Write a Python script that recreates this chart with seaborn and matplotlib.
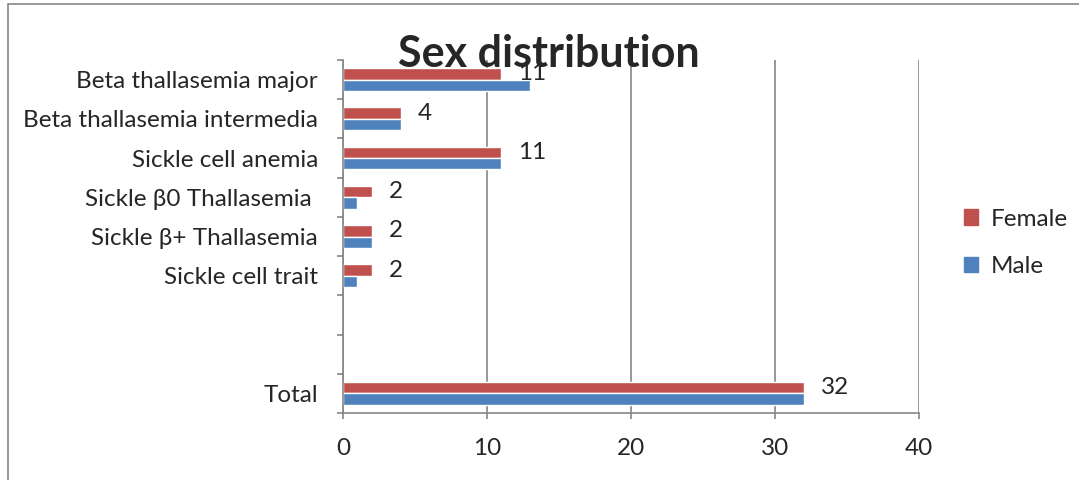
import numpy as np
import pandas as pd
import matplotlib
matplotlib.use("Agg")
import matplotlib.pyplot as plt
import seaborn as sns
from matplotlib.patches import Patch, Rectangle

categories = ["Beta thallasemia major", "Beta thallasemia intermedia",
              "Sickle cell anemia", "Sickle β0 Thallasemia ",
              "Sickle β+ Thallasemia", "Sickle cell trait", "Total"]
female = [11, 4, 11, 2, 2, 2, 32]
male = [13, 4, 11, 1, 2, 1, 32]
series = ["Female", "Male"]
colors = ["#C0504D", "#4F81BD"]

# two empty slots before the Total row, as in the original sheet
order = categories[:6] + ["", " "] + categories[6:]

df = pd.DataFrame({
    "category": categories * 2,
    "value": female + male,
    "sex": ["Female"] * len(categories) + ["Male"] * len(categories),
})

sns.set_style("white")
plt.rcParams["font.family"] = ["Lato", "DejaVu Sans"]
grid_c = "#868686"
fs = 17.5

fig = plt.figure(figsize=(10.79, 4.8), dpi=100)
ax = fig.add_axes([343 / 1079, 1 - 413 / 480, (919 - 343) / 1079, (413 - 60) / 480])

sns.barplot(data=df, y="category", x="value", hue="sex", order=order,
            hue_order=series, palette=colors, orient="h", width=0.58,
            saturation=1, legend=False, ax=ax)

ax.bar_label(ax.containers[0], padding=12, fontsize=fs)

ax.set_xlim(0, 40)
ax.set_ylim(len(order) - 0.5, -0.5)
ax.set_xticks(np.arange(0, 41, 10))
ax.set_xlabel("")
ax.set_ylabel("")
ax.xaxis.grid(True, color=grid_c, lw=1.2)
ax.set_axisbelow(True)
for s in ["top", "right"]:
    ax.spines[s].set_visible(False)
for s in ["left", "bottom"]:
    ax.spines[s].set_color(grid_c)
    ax.spines[s].set_linewidth(1.2)

ax.set_yticks(np.arange(len(order)))
ax.set_yticklabels(order)
ax.set_yticks(np.arange(-0.5, len(order)), minor=True)
ax.tick_params(axis="y", which="major", length=0, pad=18, labelsize=fs)
ax.tick_params(axis="y", which="minor", left=True, length=4, color=grid_c, width=1.2)
ax.tick_params(axis="x", bottom=True, length=4, color=grid_c, width=1.2,
               pad=14, labelsize=fs, direction="out")

handles = [Patch(color=c, label=l) for c, l in zip(colors, series)]
fig.legend(handles=handles, loc="center left", bbox_to_anchor=(0.873, 0.494),
           frameon=False, fontsize=fs, handlelength=0.6, handleheight=0.6,
           handletextpad=0.5, labelspacing=1.1)

fig.text(0.509, 1 - 54 / 480, "Sex distribution", ha="center", va="center",
         fontsize=31, fontweight="bold")

fig.patches.append(Rectangle((8 / 1079, -0.1), 1.2, 1.1 - 4 / 480,
                             transform=fig.transFigure, fill=False,
                             edgecolor=grid_c, lw=1.2))

fig.savefig("out.png", dpi=100)
